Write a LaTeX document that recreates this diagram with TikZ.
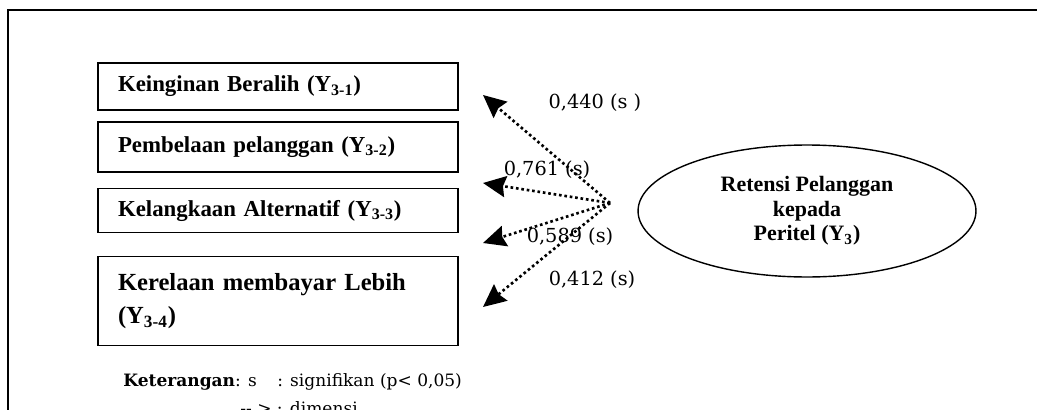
\documentclass[tikz,border=0pt]{standalone}
\usepackage{fontspec}
\setmainfont{Liberation Serif}
\newfontfamily\numfont{DejaVu Serif}
\usetikzlibrary{arrows.meta,shapes.geometric}
\tikzset{dimarrow/.style={-{Stealth[length=13pt,width=12pt,inset=1.5pt]}, line width=1.5pt, dash pattern=on 1.5pt off 1.6pt},
  blk/.style={draw, thick, minimum width=7.2cm, text width=6.4cm, inner xsep=0.4cm, align=left, font=\bfseries\fontsize{13}{16}\selectfont},
  val/.style={font=\numfont\fontsize{11}{13}\selectfont}}
\newcommand{\ysub}[1]{Y\textsubscript{#1}}

\begin{document}
\begin{tikzpicture}[x=0.02cm, y=-0.02cm]
  \useasboundingbox (0,0) rectangle (1037,409);
  \clip (0,0) rectangle (1037,409);
  % outer frame, cut by the page
  \draw[thick] (8,440) -- (8,10) -- (1080,10);
  % dimensions
  \node[blk, minimum height=0.94cm] (k1) at (278,86.5) {Keinginan Beralih (\ysub{3-1})};
  \node[blk, minimum height=1.0cm] (k2) at (278,147) {Pembelaan pelanggan (\ysub{3-2})};
  \node[blk, minimum height=0.88cm] (k3) at (278,210.5) {Kelangkaan Alternatif (\ysub{3-3})};
  \node[blk, minimum height=1.78cm, font=\bfseries\fontsize{14}{19}\selectfont] (k4) at (278,301) {Kerelaan membayar Lebih\\(\ysub{3-4})};
  % construct
  \node[draw, thick, ellipse, minimum width=6.76cm, minimum height=2.64cm, align=center,
    font=\bfseries\fontsize{12.5}{14}\selectfont] (ret) at (807,211) {Retensi Pelanggan\\kepada\\Peritel (\ysub{3})};
  \coordinate (hub) at (610,203);
  \foreach \i/\y/\lx/\ly/\v in {1/95/595/103/{0,440 (s )}, 2/183/547/170/{0,761 (s)},
      3/243/570/237/{0,589 (s)}, 4/307/592/280/{0,412 (s)}}{
    \coordinate (t\i) at (483,\y);
    \draw[dimarrow] (hub) -- (t\i);
    \node[val] (v\i) at (\lx,\ly) {\v};}
  % legend
  \node[anchor=west, inner sep=0, font=\numfont\fontsize{9.7}{12}\selectfont] (ket) at (123,382)
    {\textbf{Keterangan}: s\hspace{1.2em}: signifikan (p< 0,05)};
  \node[anchor=base west, inner sep=0, font=\numfont\fontsize{9.7}{12}\selectfont] (dm) at (240,414) {-{}- > : dimensi};
\end{tikzpicture}
\end{document}
